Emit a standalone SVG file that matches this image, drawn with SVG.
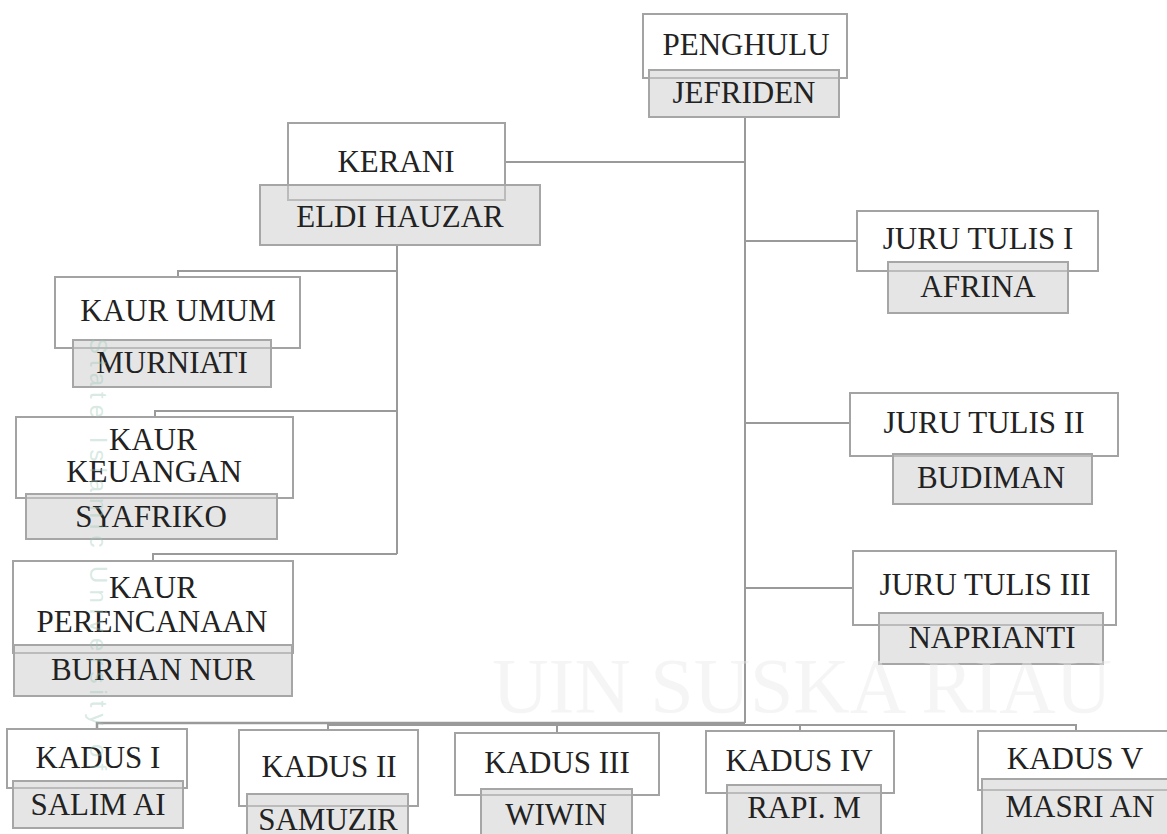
<svg xmlns="http://www.w3.org/2000/svg" width="1167" height="834" viewBox="0 0 1167 834">
<style>
.t{fill:#fff;stroke:#a3a3a3;stroke-width:2}
.n{fill:#cfcfcf;fill-opacity:0.55;stroke:#a6a6a6;stroke-width:2}
.c{fill:none;stroke:#9a9a9a;stroke-width:2}
text{font-family:"Liberation Serif","Times New Roman",serif;font-size:31px;fill:#222;text-anchor:middle}
.wm{font-family:"Liberation Serif","Times New Roman",serif;font-size:78px;fill:#e8e8e8;fill-opacity:0.45}
.wv{font-family:"Liberation Sans",Arial,sans-serif;font-size:24px;fill:#9cc7b8;fill-opacity:0.4;text-anchor:start;letter-spacing:6px}
</style>
<rect width="1167" height="834" fill="#fff"/>
<g id="connectors">
<path class="c" d="M745,117 V723"/>
<path class="c" d="M505,162 H745"/>
<path class="c" d="M397,245 V554"/>
<path class="c" d="M397,271 H178 V277"/>
<path class="c" d="M397,411 H155 V417"/>
<path class="c" d="M397,554 H153 V561"/>
<path class="c" d="M745,241 H857"/>
<path class="c" d="M745,423 H850"/>
<path class="c" d="M745,588 H853"/>
<path class="c" d="M97,729 V723 H745" style="stroke-width:2.5"/>
<path class="c" d="M328,731 V725 H1076 V731"/>
<path class="c" d="M557,733 V725"/>
<path class="c" d="M800,731 V724"/>
</g>
<g id="penghulu">
<rect class="t" x="643" y="14" width="204" height="64"/>
<rect class="n" x="649" y="70" width="190" height="47"/>
<text x="746" y="55">PENGHULU</text>
<text x="744" y="103">JEFRIDEN</text>
</g>
<g id="kerani">
<rect class="t" x="288" y="123" width="217" height="77"/>
<rect class="n" x="260" y="185" width="280" height="60"/>
<text x="396" y="172">KERANI</text>
<text x="400" y="227">ELDI HAUZAR</text>
</g>
<g id="kaur-umum">
<rect class="t" x="55" y="277" width="245" height="71"/>
<rect class="n" x="73" y="340" width="198" height="47"/>
<text x="178" y="321">KAUR UMUM</text>
<text x="172" y="373">MURNIATI</text>
</g>
<g id="kaur-keuangan">
<rect class="t" x="16" y="417" width="277" height="81"/>
<rect class="n" x="26" y="494" width="251" height="45"/>
<text x="153" y="450">KAUR</text>
<text x="154" y="482">KEUANGAN</text>
<text x="151" y="527">SYAFRIKO</text>
</g>
<g id="kaur-perencanaan">
<rect class="t" x="13" y="561" width="280" height="92"/>
<rect class="n" x="14" y="645" width="278" height="51"/>
<text x="153" y="598">KAUR</text>
<text x="152" y="632">PERENCANAAN</text>
<text x="153" y="680">BURHAN NUR</text>
</g>
<g id="juru-tulis-1">
<rect class="t" x="857" y="211" width="241" height="60"/>
<rect class="n" x="888" y="262" width="180" height="51"/>
<text x="978" y="249">JURU TULIS I</text>
<text x="978" y="297">AFRINA</text>
</g>
<g id="juru-tulis-2">
<rect class="t" x="850" y="393" width="268" height="63"/>
<rect class="n" x="893" y="454" width="199" height="50"/>
<text x="984" y="433">JURU TULIS II</text>
<text x="991" y="488">BUDIMAN</text>
</g>
<g id="juru-tulis-3">
<rect class="t" x="853" y="551" width="263" height="74"/>
<rect class="n" x="879" y="613" width="224" height="51"/>
<text x="985" y="595">JURU TULIS III</text>
<text x="992" y="648">NAPRIANTI</text>
</g>
<g id="kadus-1">
<rect class="t" x="7" y="729" width="180" height="59"/>
<rect class="n" x="13" y="781" width="170" height="47"/>
<text x="98" y="768">KADUS I</text>
<text x="98" y="815">SALIM AI</text>
</g>
<g id="kadus-2">
<rect class="t" x="239" y="730" width="179" height="76"/>
<rect class="n" x="247" y="794" width="161" height="45"/>
<text x="329" y="777">KADUS II</text>
<text x="328" y="830">SAMUZIR</text>
</g>
<g id="kadus-3">
<rect class="t" x="455" y="733" width="204" height="62"/>
<rect class="n" x="481" y="789" width="151" height="50"/>
<text x="557" y="773">KADUS III</text>
<text x="556" y="825">WIWIN</text>
</g>
<g id="kadus-4">
<rect class="t" x="706" y="731" width="188" height="62"/>
<rect class="n" x="727" y="785" width="154" height="54"/>
<text x="799" y="771">KADUS IV</text>
<text x="804" y="818">RAPI. M</text>
</g>
<g id="kadus-5">
<rect class="t" x="978" y="731" width="200" height="59"/>
<rect class="n" x="982" y="779" width="196" height="60"/>
<text x="1075" y="769">KADUS V</text>
<text x="1080" y="817">MASRI AN</text>
</g>
<g id="watermark">
<text class="wm" x="802" y="712">UIN SUSKA RIAU</text>
<text class="wv" transform="translate(90,338) rotate(90)">State Islamic University of</text>
</g>
</svg>
